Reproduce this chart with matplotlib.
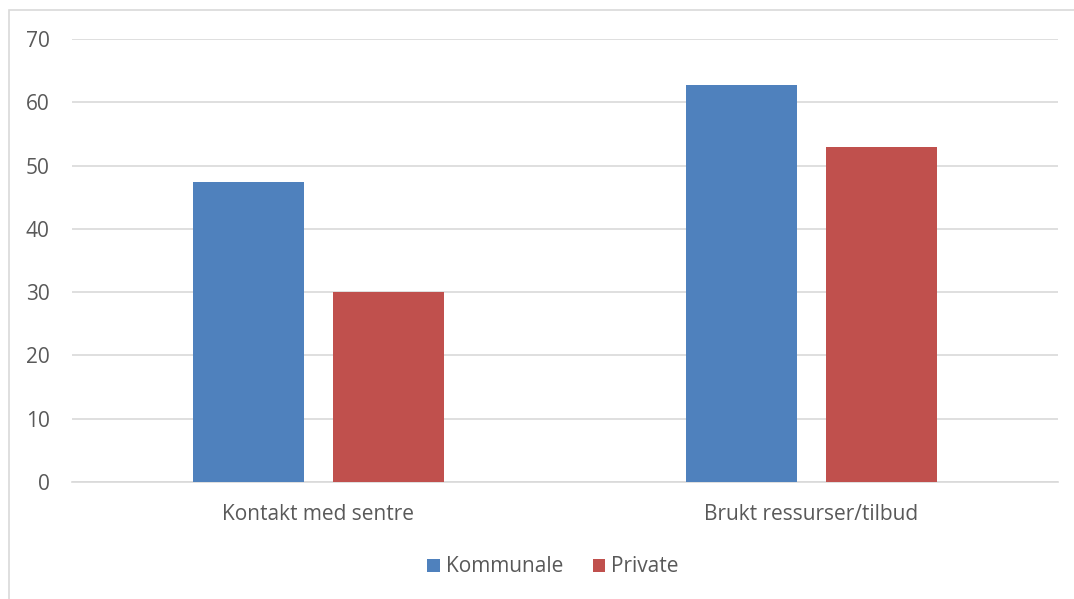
import matplotlib.pyplot as plt
import numpy as np

# Data
categories = ['Kontakt med sentre', 'Brukt ressurser/tilbud']
kommunale = [47.4, 62.8]
private = [30.1, 52.9]
yticks = [0, 10, 20, 30, 40, 50, 60, 70]

blue = '#4f81bd'
red = '#c0504d'
text_col = '#595959'
grid_col = '#d9d9d9'

plt.rcParams['font.family'] = ['Open Sans', 'DejaVu Sans']

fig = plt.figure(figsize=(10.74, 5.99), dpi=100)
# light chart border
fig.patches.append(plt.Rectangle((9 / 1074, -0.01), 1.05, 1 - 10 / 599 + 0.01,
                                 transform=fig.transFigure, fill=False,
                                 edgecolor=grid_col, linewidth=1.2))

ax = fig.add_axes([72 / 1074, 1 - 482 / 599, (1058 - 72) / 1074, (482 - 39) / 599])

x = np.arange(len(categories))
w = 0.224
off = 0.142
b1 = ax.bar(x - off, kommunale, w, color=blue, label='Kommunale', zorder=3)
b2 = ax.bar(x + off, private, w, color=red, label='Private', zorder=3)

ax.set_xlim(-0.5, 1.5)
ax.set_ylim(0, 70)
ax.set_yticks(yticks)
ax.set_xticks(x)
ax.set_xticklabels(categories)
ax.yaxis.grid(True, color=grid_col, linewidth=1.2, zorder=0)
ax.set_axisbelow(True)
for s in ['top', 'right', 'left']:
    ax.spines[s].set_visible(False)
ax.spines['bottom'].set_color(grid_col)
ax.spines['bottom'].set_linewidth(1.2)
ax.tick_params(axis='both', length=0, colors=text_col, labelsize=15)
ax.tick_params(axis='y', pad=16)
ax.tick_params(axis='x', pad=16)

fig.legend(handles=[b1, b2], loc='center', bbox_to_anchor=(0.515, 1 - 567 / 599),
           ncol=2, frameon=False, fontsize=15, labelcolor=text_col,
           handlelength=0.6, handleheight=0.6, handletextpad=0.3, columnspacing=1.4)

fig.savefig('out.png', dpi=100)
